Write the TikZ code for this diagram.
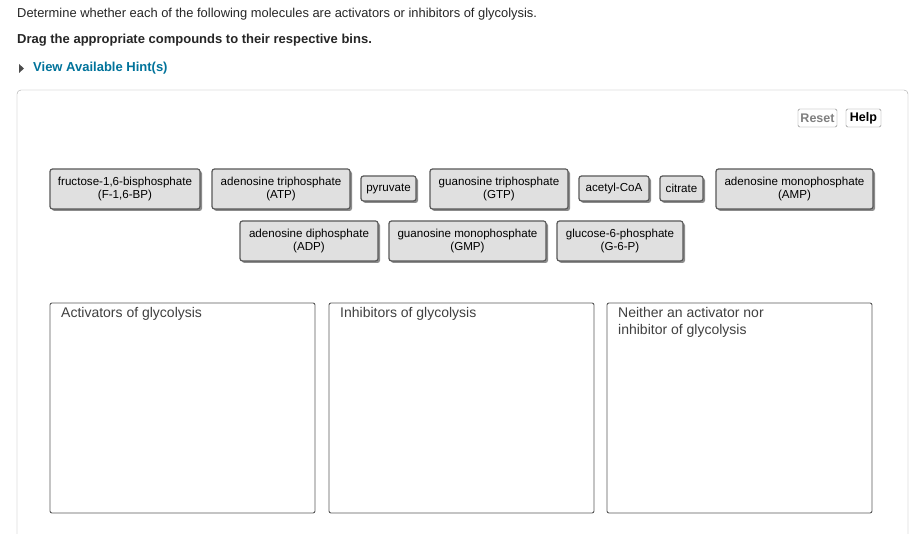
\documentclass[tikz,border=0pt]{standalone}
\usepackage{fontspec}
\setmainfont{Liberation Sans}
\begin{document}
\begin{tikzpicture}[x=1pt,y=-1pt,
 chip/.style={draw=black!65,line width=1.2pt,fill=black!12,rounded corners=2.5pt,align=center,font=\fontsize{11.6}{13}\selectfont,inner sep=0pt},
 shad/.style={fill=black!45,rounded corners=2.5pt},
 btn/.style={draw=black!50,rounded corners=1.5pt,font=\bfseries\fontsize{12.5}{13}\selectfont,inner sep=0pt},
 bin/.style={draw=black!65,line width=0.9pt,rounded corners=2pt},
 binlab/.style={fill=white,anchor=north west,align=left,font=\fontsize{14}{17}\selectfont,inner sep=2pt}]
\useasboundingbox (0,0) rectangle (913,534);
\fill[white] (0,0) rectangle (913,534);
\node[anchor=west,inner sep=0pt,font=\fontsize{12.9}{14}\selectfont,text=black!85] (t1) at (17,14) {Determine whether each of the following molecules are activators or inhibitors of glycolysis.};
\node[anchor=west,inner sep=0pt,font=\bfseries\fontsize{13}{14}\selectfont,text=black!85] (t2) at (17,40) {Drag the appropriate compounds to their respective bins.};
\fill[black!70] (19,64) -- (24,68.5) -- (19,73) -- cycle;
\node[anchor=west,inner sep=0pt,font=\bfseries\fontsize{13}{14}\selectfont,text={rgb,255:red,0;green,115;blue,155}] (t3) at (33,68.5) {View Available Hint(s)};
\draw[black!35,rounded corners=4pt] (17,540) -- (17,90) -- (908,90) -- (908,540);
\node[btn,text=black!50,minimum width=39pt,minimum height=18pt] (reset) at (817.5,118) {Reset};
\node[btn,minimum width=35pt,minimum height=18pt] (help) at (863.5,118) {Help};
\foreach \a/\b/\c/\d in {50/169/200/209,212/169/350/209,361/176/416/201,430/169/568/209,579/176/649/201,660/176/703/201,716/169/873/209,240/221/378/261,389/221/546/261,557/221/683/261}
  \fill[shad] (\a+2,\b+2) rectangle (\c+2,\d+2);
\node[chip,minimum width=150pt,minimum height=40pt] (f16bp) at (125,189) {fructose-1,6-bisphosphate\\(F-1,6-BP)};
\node[chip,minimum width=138pt,minimum height=40pt] (atp) at (281,189) {adenosine triphosphate\\(ATP)};
\node[chip,minimum width=55pt,minimum height=25pt] (pyr) at (388.5,188.5) {pyruvate};
\node[chip,minimum width=138pt,minimum height=40pt] (gtp) at (499,189) {guanosine triphosphate\\(GTP)};
\node[chip,minimum width=70pt,minimum height=25pt] (acoa) at (614,188.5) {acetyl-CoA};
\node[chip,minimum width=43pt,minimum height=25pt] (cit) at (681.5,188.5) {citrate};
\node[chip,minimum width=157pt,minimum height=40pt] (amp) at (794.5,189) {adenosine monophosphate\\(AMP)};
\node[chip,minimum width=138pt,minimum height=40pt] (adp) at (309,241) {adenosine diphosphate\\(ADP)};
\node[chip,minimum width=157pt,minimum height=40pt] (gmp) at (467.5,241) {guanosine monophosphate\\(GMP)};
\node[chip,minimum width=126pt,minimum height=40pt] (g6p) at (620,241) {glucose-6-phosphate\\(G-6-P)};
\draw[bin] (50,303) rectangle (315,513);
\draw[bin] (329,303) rectangle (594,513);
\draw[bin] (607,303) rectangle (872,513);
\node[binlab,text=black!75] (l1) at (52,305) {\hspace{7pt}Activators of glycolysis\hspace{8pt}};
\node[binlab,text=black!75] (l2) at (331,305) {\hspace{7pt}Inhibitors of glycolysis\hspace{8pt}};
\node[binlab,text=black!75] (l3) at (609,305) {\hspace{7pt}Neither an activator nor\hspace{8pt}\\\hspace{7pt}inhibitor of glycolysis};
\end{tikzpicture}
\end{document}
